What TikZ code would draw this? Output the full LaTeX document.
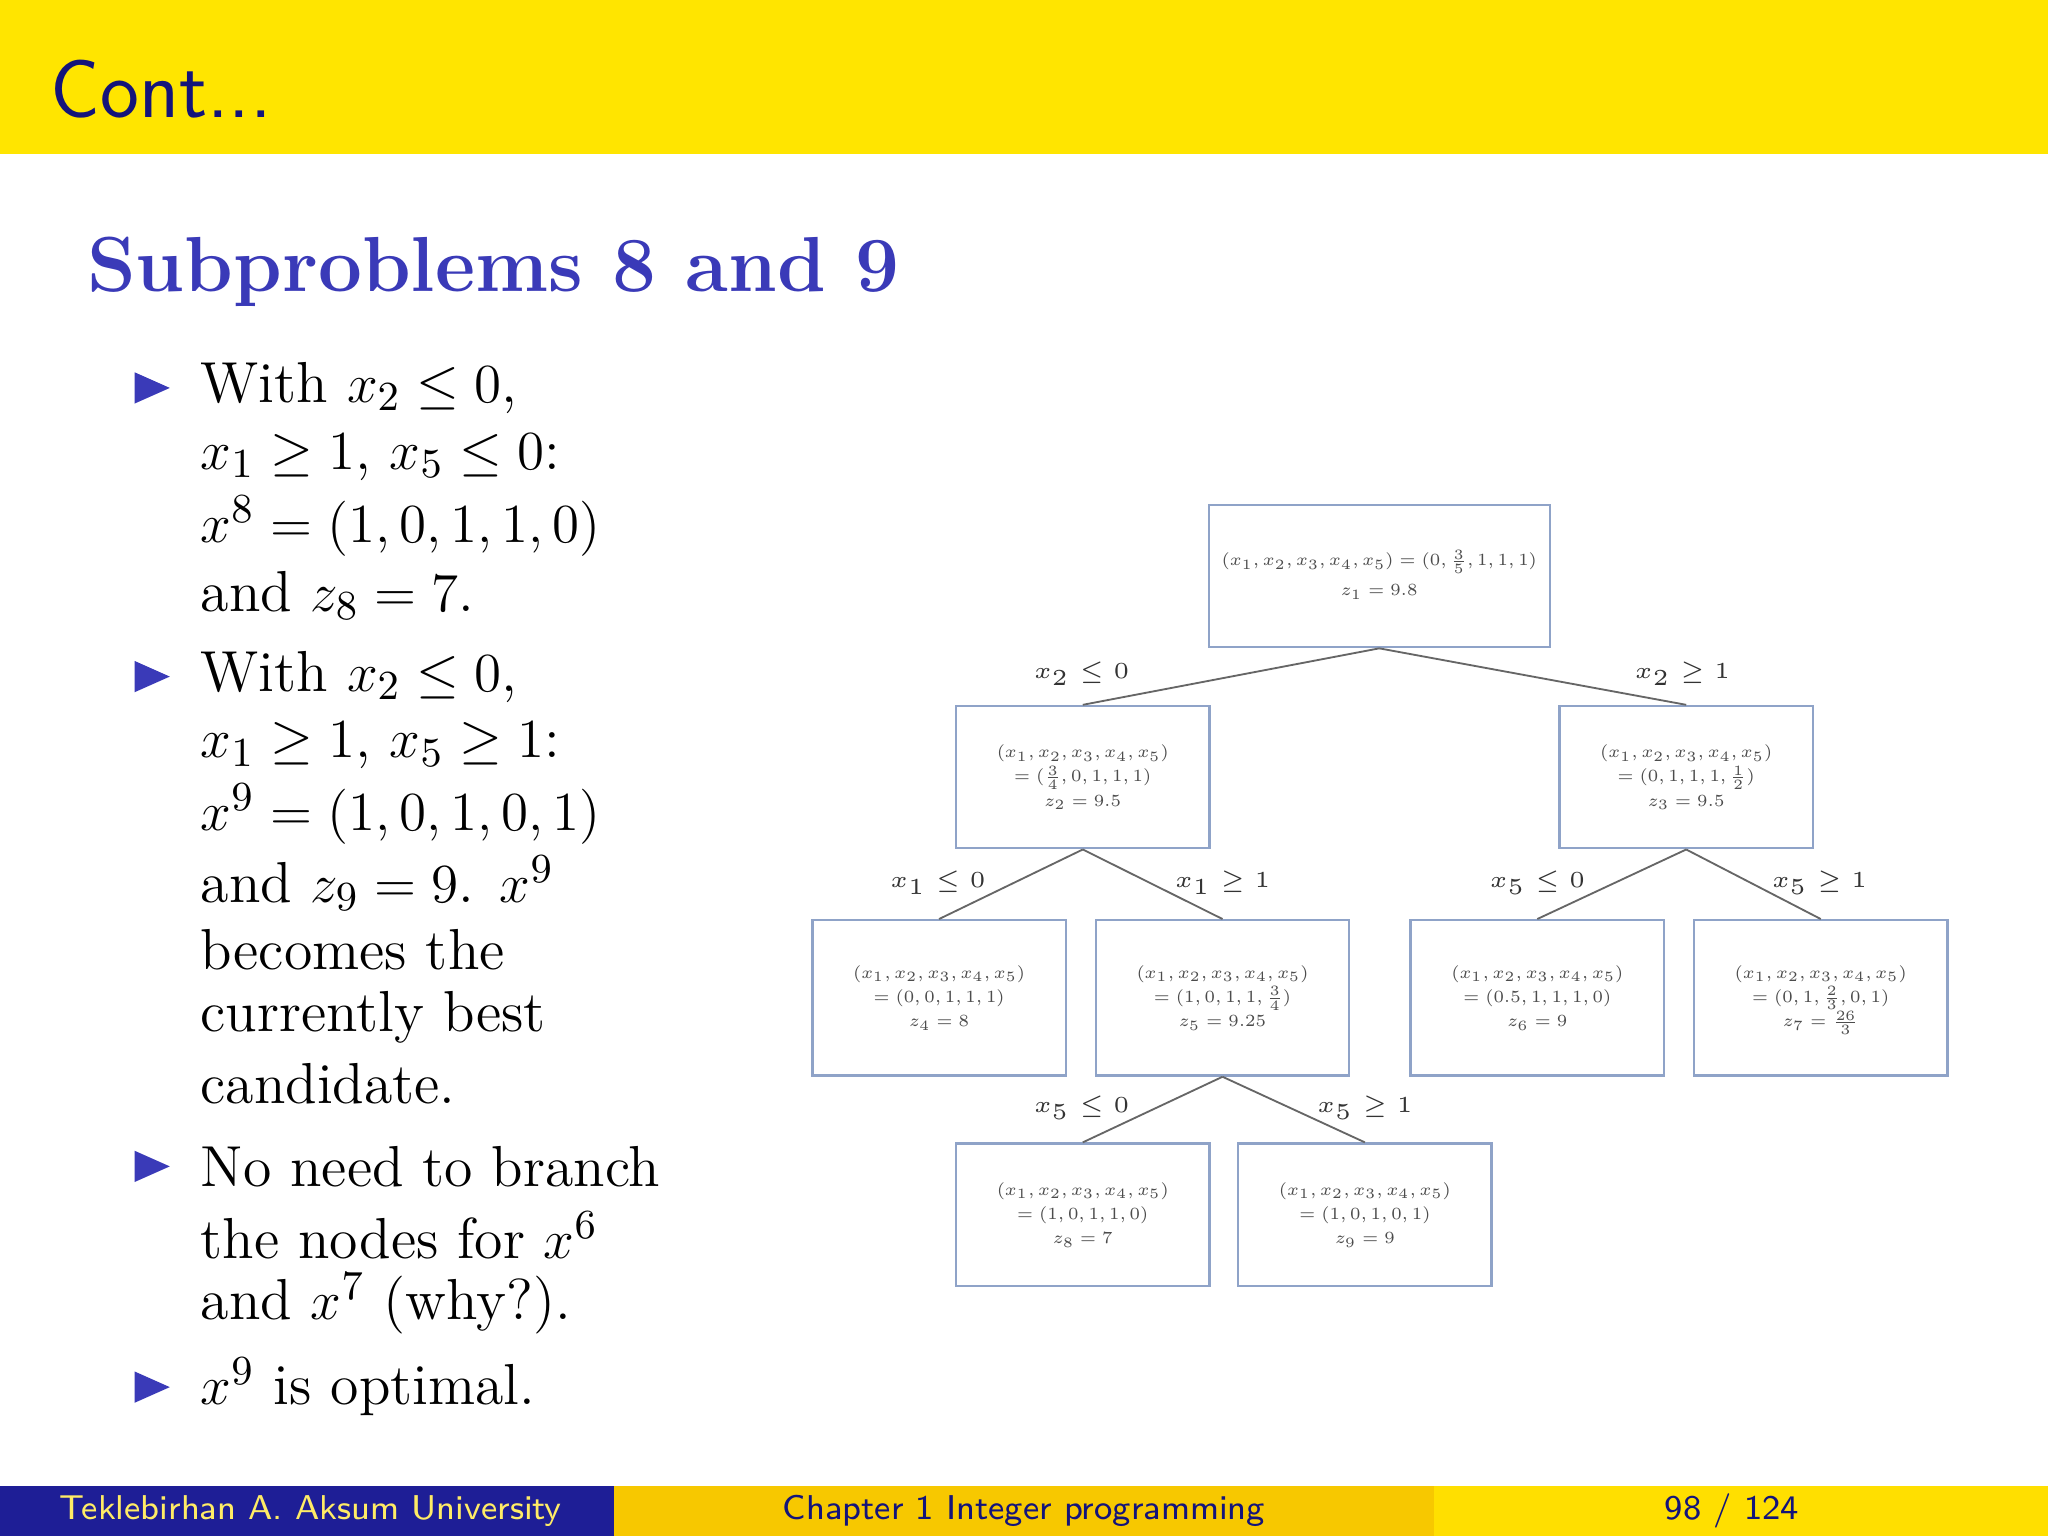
\documentclass[tikz,border=0pt]{standalone}
\usepackage{amsmath,amssymb}
\definecolor{ttl}{HTML}{FFE500}
\definecolor{navy}{HTML}{14147A}
\definecolor{hblue}{HTML}{3A3AB8}
\definecolor{fblue}{HTML}{1E1E96}
\definecolor{fgold}{HTML}{F7C800}
\definecolor{fyel}{HTML}{FFDF00}
\definecolor{bx}{HTML}{8FA3C8}
\newcommand\bxt[1]{\scalebox{0.62}{\fontsize{6}{8.5}\selectfont\begin{tabular}{@{}c@{}}#1\end{tabular}}}
\begin{document}
\begin{tikzpicture}[x=0.1mm,y=-0.1mm,
 bl/.style={anchor=west,inner sep=0,font=\fontsize{12.6}{15}\selectfont},
 bul/.style={fill=hblue},
 box/.style={draw=bx,line width=0.5pt,minimum width=19.4mm,minimum height=10.9mm,inner sep=1pt,align=center,text=black!70},
 lab/.style={font=\fontsize{5.5}{7}\selectfont,text=black!80},
 edge/.style={draw=black!60,line width=0.4pt}]
\useasboundingbox (0,0) rectangle (1568,1176);
\fill[white] (0,0) rectangle (1568,1176);
\fill[ttl] (0,0) rectangle (1568,118);
\node[anchor=west,inner sep=0,text=navy,font=\sffamily\fontsize{18}{20}\selectfont] (title) at (38,68) {Cont...};
\node[anchor=west,inner sep=0,text=hblue,font=\bfseries\fontsize{17}{20}\selectfont] (head) at (66,208) {Subproblems 8 and 9};
% bullets
\foreach \y [count=\i] in {297,518,893,1062}{\fill[bul] (103,\y-12) -- (130,\y) -- (103,\y+12) -- cycle;}
\node[bl] (l1) at (153,297) {With $x_2\le 0$,};
\node[bl] (l2) at (153,350) {$x_1\ge 1$, $x_5\le 0$:};
\node[bl] (l3) at (153,403) {$x^8=(1,0,1,1,0)$};
\node[bl] (l4) at (153,456) {and $z_8=7$.};
\node[bl] (l5) at (153,518) {With $x_2\le 0$,};
\node[bl] (l6) at (153,571) {$x_1\ge 1$, $x_5\ge 1$:};
\node[bl] (l7) at (153,623) {$x^9=(1,0,1,0,1)$};
\node[bl] (l8) at (153,676) {and $z_9=9$. $x^9$};
\node[bl] (l9) at (153,727) {becomes the};
\node[bl] (l10) at (153,779) {currently best};
\node[bl] (l11) at (153,830) {candidate.};
\node[bl] (l12) at (153,893) {No need to branch};
\node[bl] (l13) at (153,946) {the nodes for $x^6$};
\node[bl] (l14) at (153,998) {and $x^7$ (why?).};
\node[bl] (l15) at (153,1062) {$x^9$ is optimal.};
% tree
\node[box,minimum width=26.1mm] (n1) at (1056,441) {\bxt{$(x_1,x_2,x_3,x_4,x_5)=(0,\frac35,1,1,1)$\\[2pt] $z_1=9.8$}};
\node[box] (n2) at (829,595) {\bxt{$(x_1,x_2,x_3,x_4,x_5)$\\ $=(\frac34,0,1,1,1)$\\ $z_2=9.5$}};
\node[box] (n3) at (1291,595) {\bxt{$(x_1,x_2,x_3,x_4,x_5)$\\ $=(0,1,1,1,\frac12)$\\ $z_3=9.5$}};
\node[box,minimum height=11.9mm] (n4) at (719,764) {\bxt{$(x_1,x_2,x_3,x_4,x_5)$\\ $=(0,0,1,1,1)$\\ $z_4=8$}};
\node[box,minimum height=11.9mm] (n5) at (936,764) {\bxt{$(x_1,x_2,x_3,x_4,x_5)$\\ $=(1,0,1,1,\frac34)$\\ $z_5=9.25$}};
\node[box,minimum height=11.9mm] (n6) at (1177,764) {\bxt{$(x_1,x_2,x_3,x_4,x_5)$\\ $=(0.5,1,1,1,0)$\\ $z_6=9$}};
\node[box,minimum height=11.9mm] (n7) at (1394,764) {\bxt{$(x_1,x_2,x_3,x_4,x_5)$\\ $=(0,1,\frac23,0,1)$\\ $z_7=\frac{26}{3}$}};
\node[box] (n8) at (829,930) {\bxt{$(x_1,x_2,x_3,x_4,x_5)$\\ $=(1,0,1,1,0)$\\ $z_8=7$}};
\node[box] (n9) at (1045,930) {\bxt{$(x_1,x_2,x_3,x_4,x_5)$\\ $=(1,0,1,0,1)$\\ $z_9=9$}};
\draw[edge] (n1.south) -- (n2.north); \draw[edge] (n1.south) -- (n3.north);
\draw[edge] (n2.south) -- (n4.north); \draw[edge] (n2.south) -- (n5.north);
\draw[edge] (n3.south) -- (n6.north); \draw[edge] (n3.south) -- (n7.north);
\draw[edge] (n5.south) -- (n8.north); \draw[edge] (n5.south) -- (n9.north);
\node[lab] (e1) at (828,516) {$x_2\le 0$};
\node[lab] (e2) at (1288,516) {$x_2\ge 1$};
\node[lab] (e3) at (718,676) {$x_1\le 0$};
\node[lab] (e4) at (936,676) {$x_1\ge 1$};
\node[lab] (e5) at (1177,676) {$x_5\le 0$};
\node[lab] (e6) at (1393,676) {$x_5\ge 1$};
\node[lab] (e7) at (828,848) {$x_5\le 0$};
\node[lab] (e8) at (1045,848) {$x_5\ge 1$};
% footer
\fill[fblue] (0,1138) rectangle (470,1176);
\fill[fgold] (470,1138) rectangle (1098,1176);
\fill[fyel] (1098,1138) rectangle (1568,1176);
\node[text=fyel!60!white,font=\sffamily\fontsize{7.5}{9}\selectfont] (f1) at (238,1157) {Teklebirhan A. Aksum University};
\node[text=navy,font=\sffamily\fontsize{7.5}{9}\selectfont] (f2) at (784,1157) {Chapter 1 Integer programming};
\node[text=navy,font=\sffamily\fontsize{7.5}{9}\selectfont] (f3) at (1326,1157) {98 / 124};
\end{tikzpicture}
\end{document}
